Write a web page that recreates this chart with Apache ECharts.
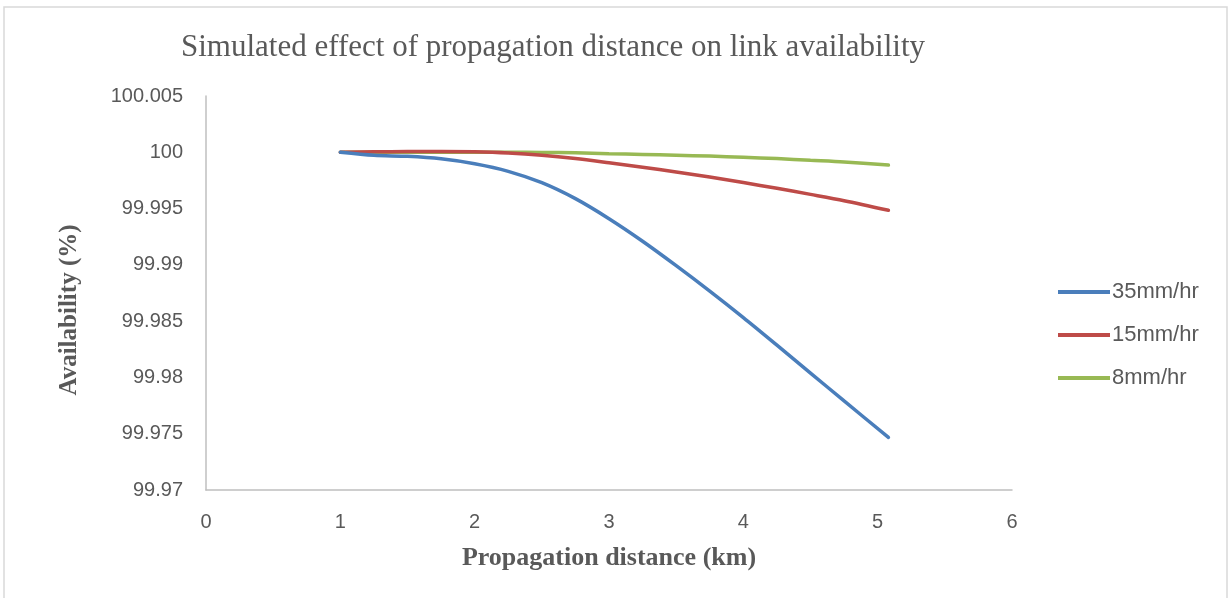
<!DOCTYPE html>
<html>
<head>
<meta charset="utf-8">
<title>Link availability vs propagation distance</title>
<script src="https://cdn.jsdelivr.net/npm/echarts@6/dist/echarts.min.js"></script>
<style>
  html, body { margin: 0; padding: 0; background: #fff; }
  #chart { width: 1230px; height: 598px; }
</style>
</head>
<body>
<div id="chart"></div>
<script>
// Propagation distance (km) at which availability was simulated
const distance = [1, 1.25, 1.5, 1.75, 2, 2.25, 2.5, 2.75, 3, 3.25, 3.5, 3.75, 4, 4.25, 4.5, 4.75, 5.08];

// Availability (%) for each rain rate
const rain35 = [100, 99.99973, 99.99964, 99.99942, 99.99898, 99.99831, 99.9973, 99.99588, 99.9941, 99.9921, 99.98993, 99.98767, 99.98532, 99.98287, 99.98039, 99.97791, 99.97467];
const rain15 = [100, 100.00004, 100.00007, 100.00008, 100.00004, 99.99993, 99.99973, 99.99944, 99.99907, 99.99868, 99.99825, 99.9978, 99.99731, 99.9968, 99.99626, 99.9957, 99.99485];
const rain8  = [100, 100, 100, 100, 100, 100, 99.99999, 99.99996, 99.99988, 99.99981, 99.99974, 99.99966, 99.99956, 99.99944, 99.99929, 99.99914, 99.99886];

const seriesNames = ['35mm/hr', '15mm/hr', '8mm/hr'];
const xTicks = [0, 1, 2, 3, 4, 5, 6];
const yTicks = [99.97, 99.975, 99.98, 99.985, 99.99, 99.995, 100, 100.005];

const colors = ['#4a7ebb', '#be4b48', '#98b954'];
const textColor = '#595959';

function pairs(xs, ys) {
  return xs.map((x, i) => [x, ys[i]]);
}

const chart = echarts.init(document.getElementById('chart'), null, { renderer: 'canvas' });

const lineSeries = [rain35, rain15, rain8].map((vals, i) => ({
  name: seriesNames[i],
  type: 'line',
  data: pairs(distance, vals),
  smooth: 0.3,
  symbol: 'none',
  lineStyle: { width: 3.5, color: colors[i], cap: 'round' },
  itemStyle: { color: colors[i] },
  z: 3 - i
}));

chart.setOption({
  backgroundColor: '#ffffff',
  animation: false,
  graphic: [{
    type: 'rect',
    shape: { x: 4, y: 7, width: 1223, height: 600 },
    style: { fill: 'none', stroke: '#d9d9d9', lineWidth: 1.5 },
    silent: true
  }],
  title: {
    text: 'Simulated effect of propagation distance on link availability',
    left: 176,
    top: 27,
    textStyle: {
      fontFamily: 'Liberation Serif',
      fontWeight: 'normal',
      fontSize: 31,
      color: textColor
    }
  },
  legend: {
    orient: 'vertical',
    left: 1053,
    top: 276,
    itemWidth: 52,
    itemHeight: 4,
    itemGap: 21,
    icon: 'rect',
    textStyle: { fontFamily: 'Liberation Sans', fontSize: 22, color: textColor, padding: [0, 0, 0, -3] },
    data: seriesNames
  },
  grid: {
    left: 206,
    right: 218,
    top: 96,
    bottom: 108,
    containLabel: false
  },
  xAxis: {
    type: 'value',
    min: xTicks[0],
    max: xTicks[xTicks.length - 1],
    interval: 1,
    name: 'Propagation distance (km)',
    nameLocation: 'middle',
    nameGap: 55,
    nameTextStyle: {
      fontFamily: 'Liberation Serif',
      fontWeight: 'bold',
      fontSize: 26,
      color: textColor
    },
    axisLine: { show: true, lineStyle: { color: '#bfbfbf', width: 1.5 } },
    axisTick: { show: false },
    splitLine: { show: false },
    axisLabel: {
      margin: 22,
      fontFamily: 'Liberation Sans',
      fontSize: 20,
      color: textColor
    }
  },
  yAxis: {
    type: 'value',
    min: yTicks[0],
    max: yTicks[yTicks.length - 1],
    interval: 0.005,
    name: 'Availability (%)',
    nameLocation: 'middle',
    nameGap: 124,
    nameRotate: 90,
    nameTextStyle: {
      fontFamily: 'Liberation Serif',
      fontWeight: 'bold',
      fontSize: 25,
      color: textColor,
      padding: [0, 34, 0, 0]
    },
    axisLine: { show: true, lineStyle: { color: '#bfbfbf', width: 1.5 } },
    axisTick: { show: false },
    splitLine: { show: false },
    axisLabel: {
      margin: 23,
      fontFamily: 'Liberation Sans',
      fontSize: 20,
      color: textColor,
      formatter: v => String(parseFloat(v.toFixed(3)))
    }
  },
  series: lineSeries
});
</script>
</body>
</html>
